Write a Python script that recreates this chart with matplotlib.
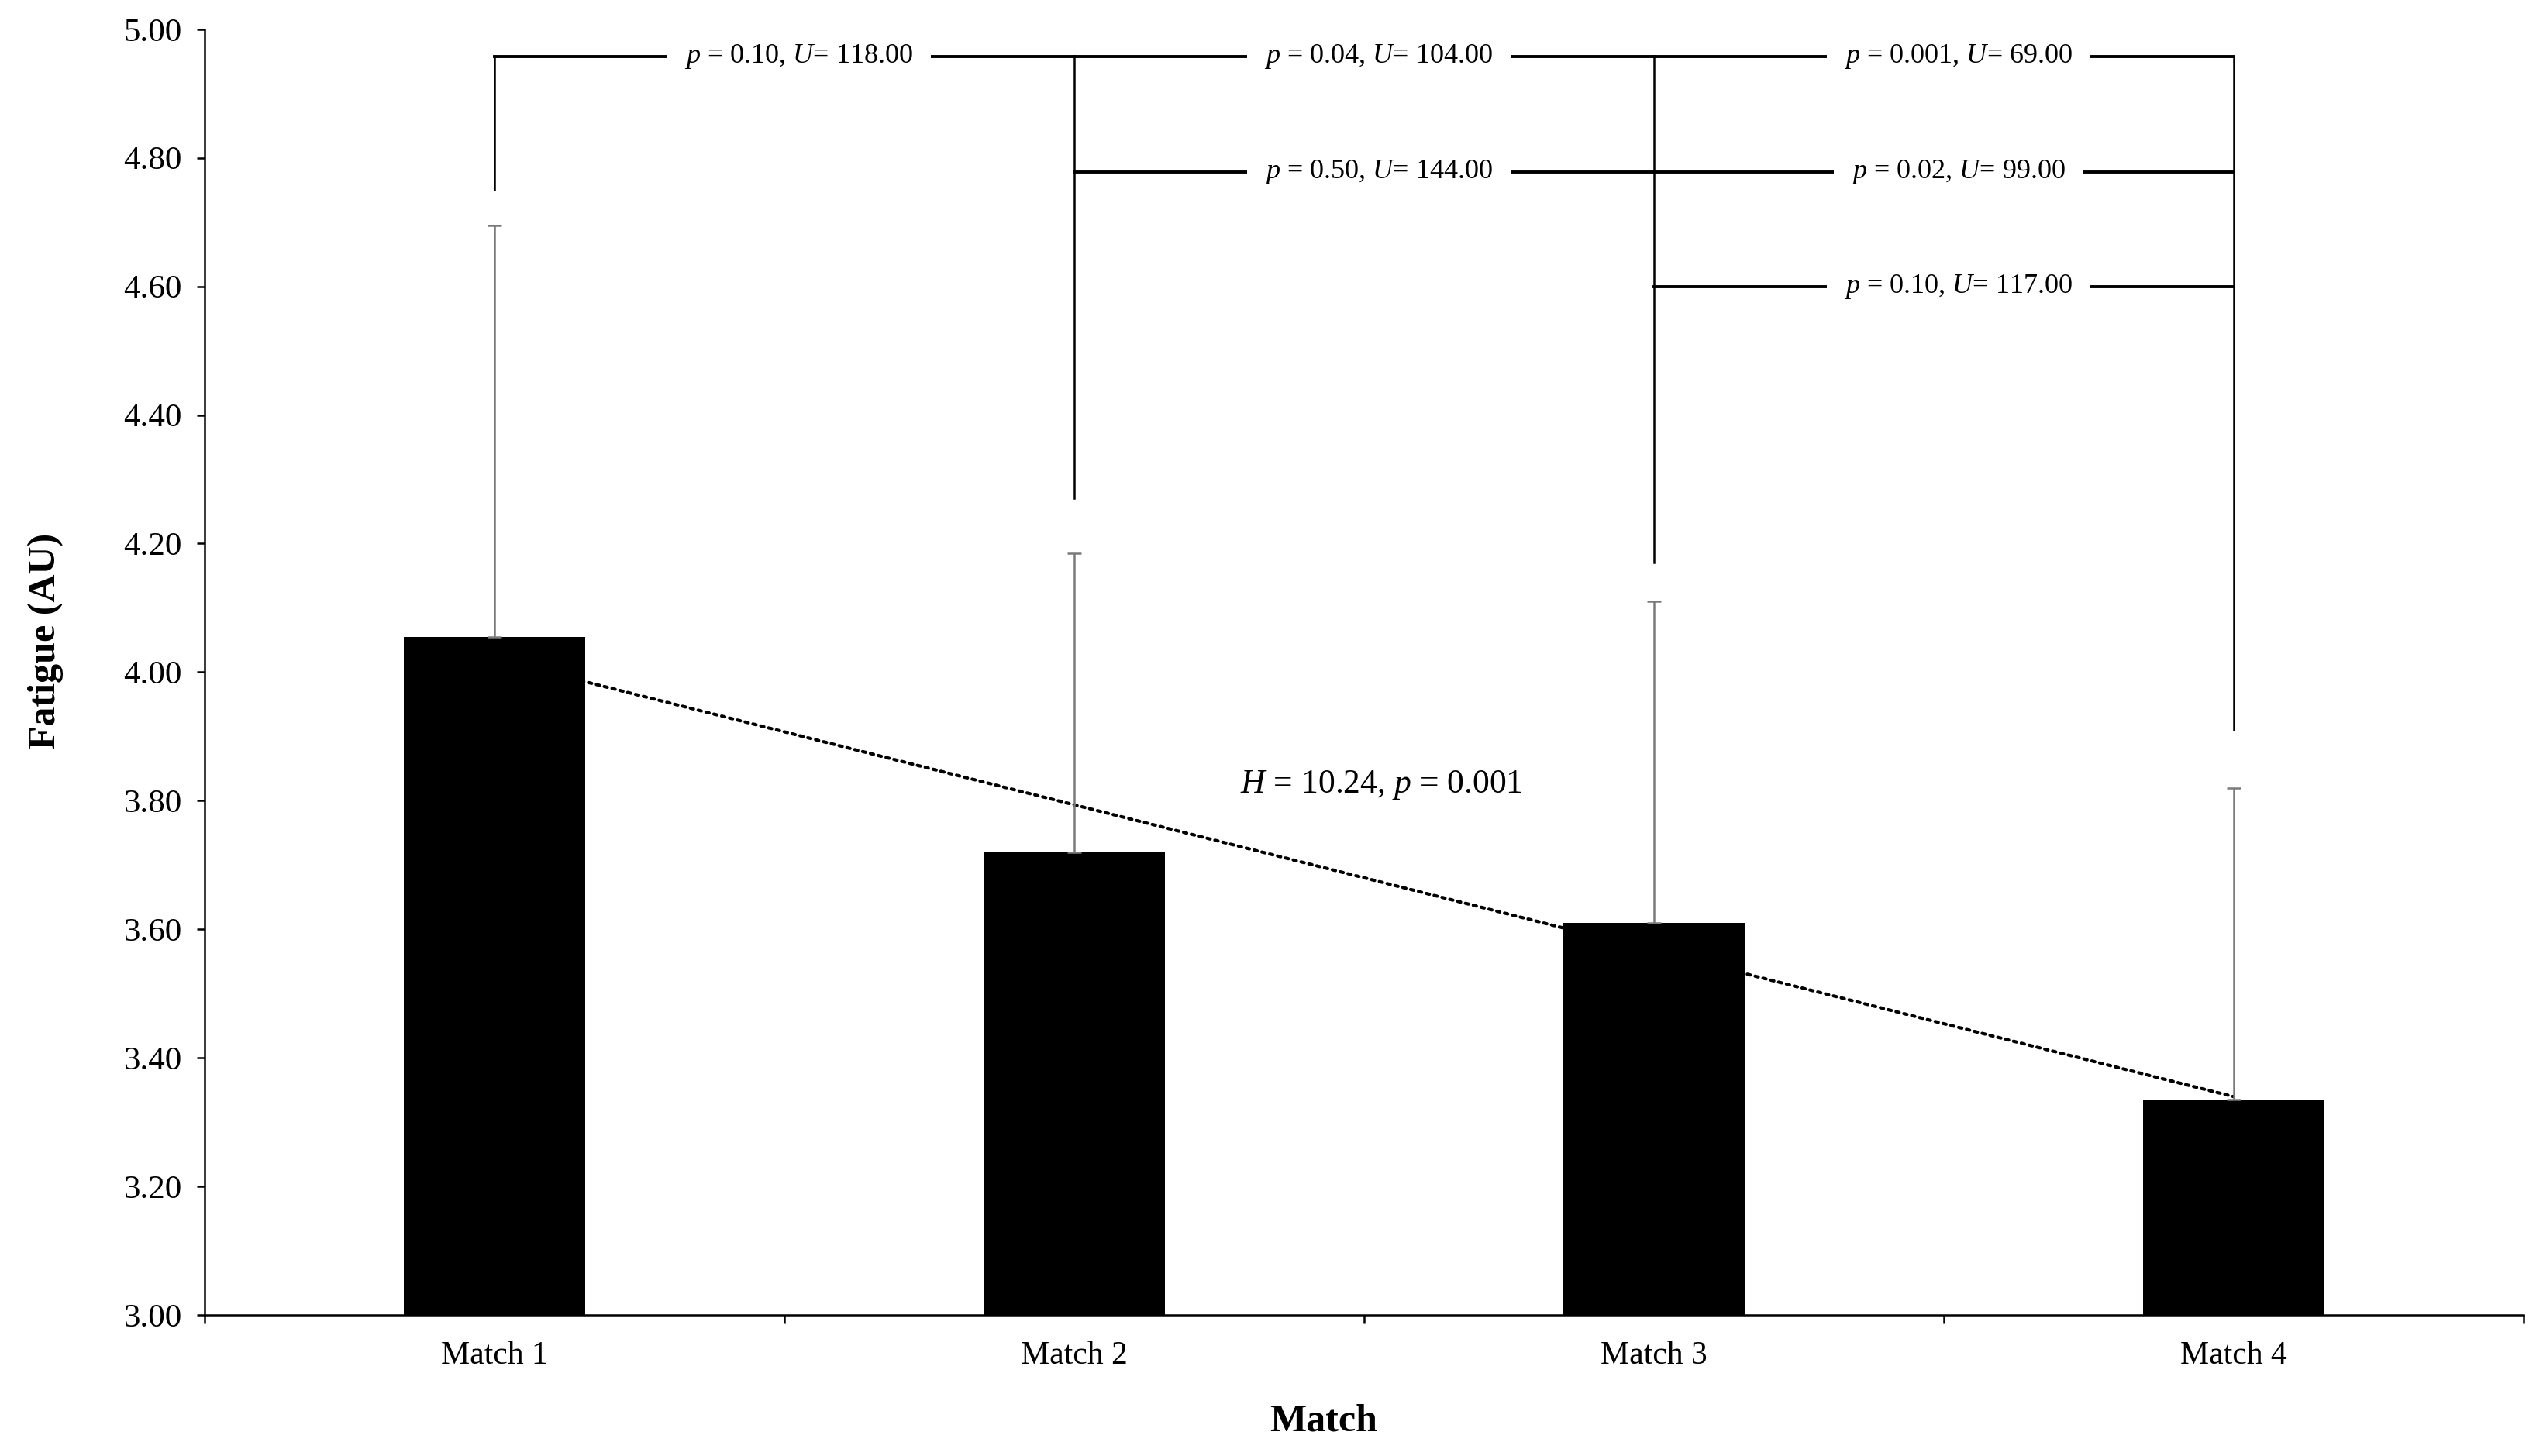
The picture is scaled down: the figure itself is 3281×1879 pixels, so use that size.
import numpy as np
import matplotlib
matplotlib.use("Agg")
import matplotlib.pyplot as plt
from matplotlib.ticker import MultipleLocator, FormatStrFormatter

plt.rcParams["font.family"] = "Liberation Serif"
plt.rcParams["mathtext.fontset"] = "custom"
plt.rcParams["mathtext.rm"] = "Liberation Serif"
plt.rcParams["mathtext.it"] = "Liberation Serif:italic"

# data
matches = ["Match 1", "Match 2", "Match 3", "Match 4"]
fatigue_mean = [4.055, 3.72, 3.61, 3.335]
fatigue_sd = [0.64, 0.465, 0.50, 0.485]

# pairwise comparisons (Mann-Whitney U)
pair_from = [0, 1, 2, 1, 2, 2]
pair_to = [1, 2, 3, 2, 3, 3]
pair_level = [4.957, 4.957, 4.957, 4.778, 4.778, 4.60]
pair_p = ["0.10", "0.04", "0.001", "0.50", "0.02", "0.10"]
pair_u = ["118.00", "104.00", "69.00", "144.00", "99.00", "117.00"]
bracket_bottom = [4.75, 4.27, 4.17, 3.91]

kruskal_h = "10.24"
kruskal_p = "0.001"

fig = plt.figure(figsize=(16.405, 9.395), dpi=200)
ax = fig.add_axes([0.0805, 0.0969, 0.9119, 0.883])

x = np.arange(len(matches))

# linear trend of the means, behind the bars
coef = np.polyfit(x, fatigue_mean, 1)
ax.plot(x, np.polyval(coef, x), color="black", linewidth=1.5,
        linestyle=(0, (1, 1.5)), dash_capstyle="round", zorder=1)

ax.bar(x, fatigue_mean, width=0.313, color="black", zorder=2)
ax.errorbar(x, fatigue_mean, yerr=[np.zeros(len(x)), fatigue_sd], fmt="none",
            ecolor="#7a7a7a", elinewidth=0.9, capsize=3.2, capthick=0.9, zorder=3)

# brackets
top = max(pair_level)
for i in range(len(matches)):
    ax.plot([x[i], x[i]], [bracket_bottom[i], top], color="black", linewidth=0.9, zorder=4)
for a, b, lev, p, u in zip(pair_from, pair_to, pair_level, pair_p, pair_u):
    ax.plot([x[a], x[b]], [lev, lev], color="black", linewidth=1.4, zorder=4)
    ax.text((x[a] + x[b]) / 2 + 0.025, lev, "$p$ = " + p + ", $U$= " + u,
            ha="center", va="center", fontsize=13, zorder=5,
            bbox=dict(facecolor="white", edgecolor="none", pad=8))

ax.text(1.53, 3.825, "$H$ = " + kruskal_h + ", $p$ = " + kruskal_p,
        ha="center", va="center", fontsize=15.7)

ax.set_xlim(-0.5, 3.5)
ax.set_ylim(3.0, 5.0)
ax.yaxis.set_major_locator(MultipleLocator(0.2))
ax.yaxis.set_major_formatter(FormatStrFormatter("%.2f"))
ax.set_xticks(x)
ax.set_xticklabels(matches)
ax.set_xticks(np.arange(-0.5, 3.6, 1.0), minor=True)
ax.tick_params(axis="x", which="major", length=0, pad=12, labelsize=15)
ax.tick_params(axis="x", which="minor", length=4, width=0.9, direction="out")
ax.tick_params(axis="y", length=3.6, width=0.9, pad=7, labelsize=15.5)

for side in ["top", "right"]:
    ax.spines[side].set_visible(False)
for side in ["left", "bottom"]:
    ax.spines[side].set_linewidth(0.9)

ax.set_ylabel("Fatigue (AU)", fontweight="bold", fontsize=18)
ax.set_xlabel("Match", fontweight="bold", fontsize=18)
ax.yaxis.set_label_coords(-0.061, 0.524)
ax.xaxis.set_label_coords(0.4825, -0.069)

plt.savefig("out.png", dpi=200, facecolor="white")
